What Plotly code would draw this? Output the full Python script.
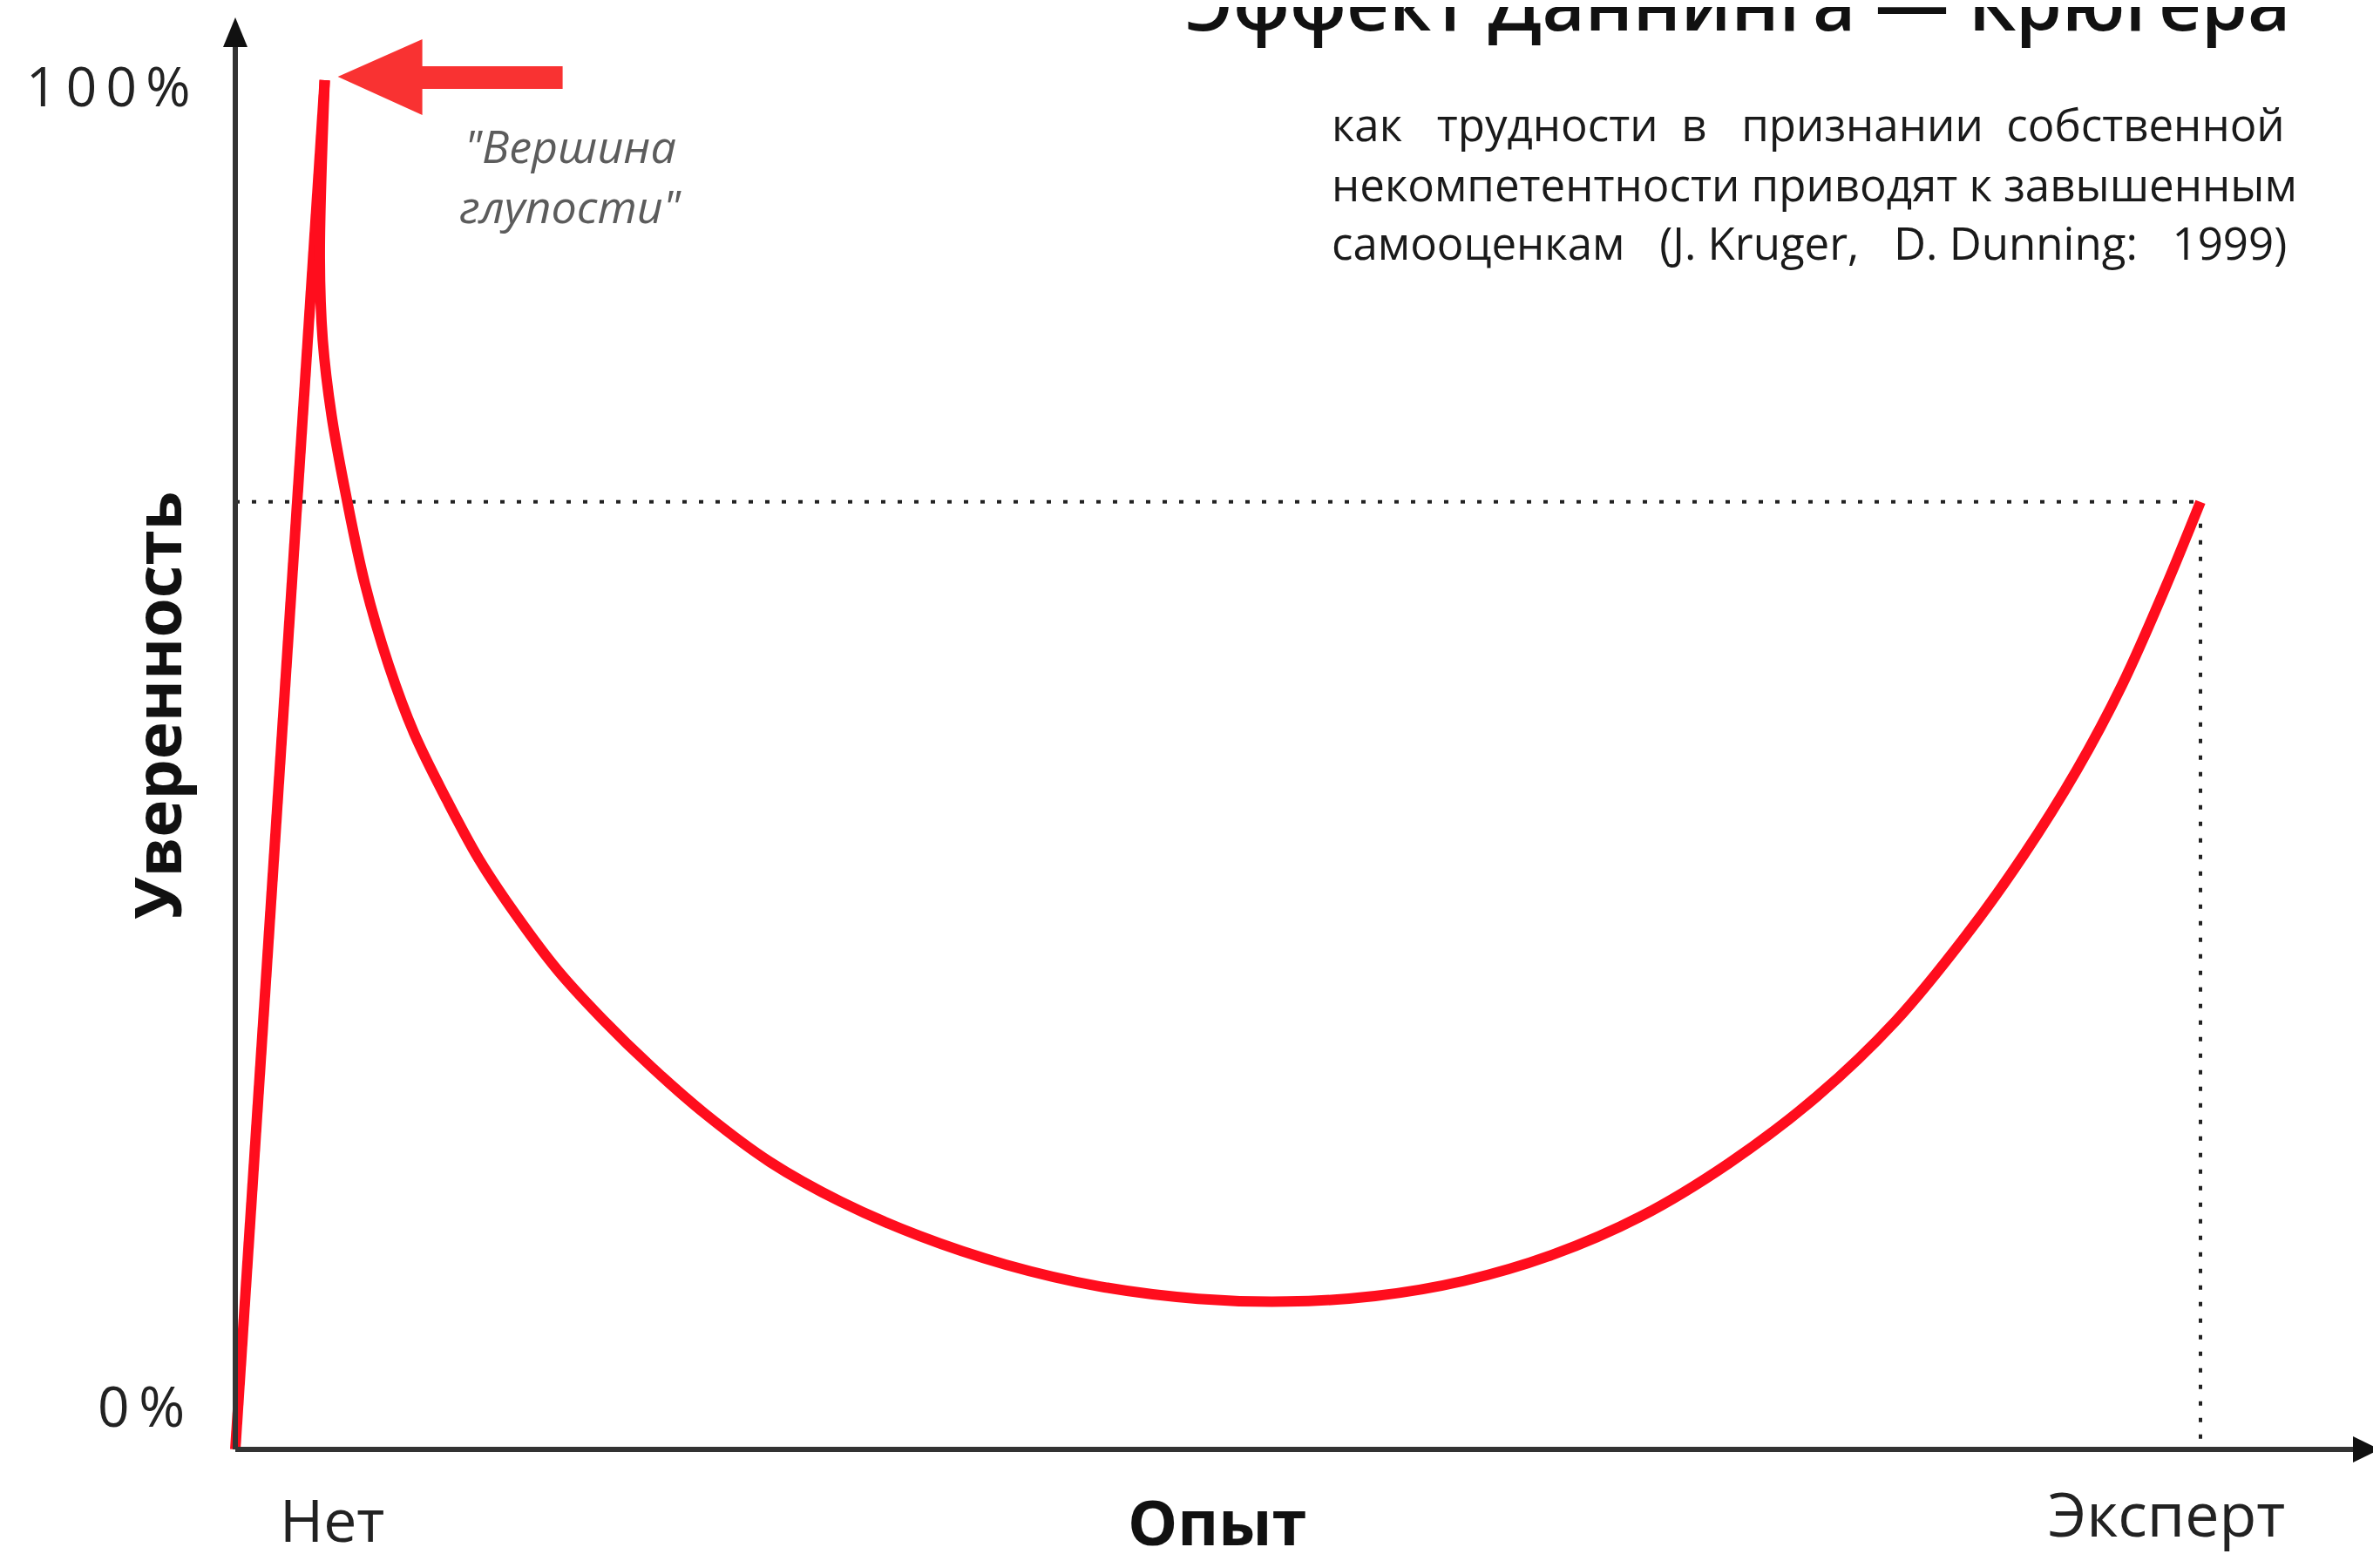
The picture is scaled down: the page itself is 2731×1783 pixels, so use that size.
import plotly.graph_objects as go

# ---------------- data ----------------
# Experience axis: 0 = "Нет", 100 = "Эксперт"; confidence in %
rise_x = [0.0, 4.55]
rise_y = [0.0, 100.0]
fall_x = [4.55, 4.3, 4.45, 4.9, 5.7, 6.6, 7.8, 9.1, 10.7, 12.4, 14.3, 16.4, 18.7, 21.2,
          24.0, 27.2, 30.8, 34.8, 39.2, 44.0, 49.0, 53.5, 58.0, 62.5, 67.0, 71.5, 76.0,
          80.5, 84.5, 88.0, 91.0, 93.7, 96.0, 98.2, 100.0]
fall_y = [100.0, 87.0, 81.0, 75.5, 69.2, 63.2, 57.3, 52.3, 47.6, 43.1, 39.0, 35.0, 31.4, 27.9,
          24.4, 21.0, 18.1, 15.6, 13.5, 11.9, 11.0, 10.8, 11.2, 12.3, 14.2, 17.0, 20.9,
          25.8, 31.3, 37.4, 43.4, 49.6, 55.8, 62.9, 69.2]
expert_x = 100.0
expert_level = 69.2
peak_x, peak_y = 4.55, 100.0
y_tick_vals = [0, 100]
y_tick_text = ["0\u2009%", "1\u20090\u20090\u2009%"]
x_tick_vals = [0, 100]
x_tick_text = ["Нет", "Эксперт"]
title_text = "Эффект Даннинга — Крюгера"
subtitle_lines = ["как\u00a0\u00a0 трудности\u00a0 в\u00a0\u00a0 признании\u00a0 собственной",
                  "некомпетентности приводят к завышенным",
                  "самооценкам\u00a0\u00a0 (J. Kruger,\u00a0\u00a0 D. Dunning:\u00a0\u00a0 1999)"]
peak_label = ["\"Вершина", "глупости\""]
x_title = "Опыт"
y_title = "Уверенность"

# ---------------- geometry (page pixels) ----------------
W, H = 2731, 1783
OFF = 8                       # default body margin of the html page
FW, FH = W - OFF, H - OFF     # figure size so it exactly fills the window
X0_PX, X100_PX = 270, 2525
Y0_PX, Y100_PX = 1663, 92
sx = (X100_PX - X0_PX) / 100.0
sy = (Y0_PX - Y100_PX) / 100.0


def dx(px):
    return (px - X0_PX) / sx


def dy(py):
    return (Y0_PX - py) / sy


def tox(x):
    return X0_PX + x * sx


def toy(y):
    return Y0_PX - y * sy


def pxp(px):
    return (px - OFF) / FW


def pyp(py):
    return 1 - (py - OFF) / FH


def path(points):
    return "M " + " L ".join(f"{dx(a):.4f},{dy(b):.4f}" for a, b in points) + " Z"


RED = "#ff0d1d"
ARROW_RED = "#f93232"
AXIS = "#333333"
FONT = "Open Sans, Noto Sans, sans-serif"

fig = go.Figure()

# dotted guide lines
fig.add_trace(go.Scatter(x=[0, expert_x, expert_x], y=[expert_level, expert_level, 0],
                         mode="lines", line=dict(color="#222222", width=4, dash="5px,14px"),
                         hoverinfo="skip"))
# curve
fig.add_trace(go.Scatter(x=rise_x, y=rise_y, mode="lines",
                         line=dict(color=RED, width=12, shape="linear"), hoverinfo="skip"))
fig.add_trace(go.Scatter(x=fall_x, y=fall_y, mode="lines",
                         line=dict(color=RED, width=12, shape="spline", smoothing=1.0),
                         hoverinfo="skip"))

shapes = []
# axes
shapes.append(dict(type="line", xref="x", yref="y", x0=0, y0=0, x1=0, y1=dy(44),
                   line=dict(color=AXIS, width=6)))
shapes.append(dict(type="line", xref="x", yref="y", x0=0, y0=0, x1=dx(2705), y1=0,
                   line=dict(color=AXIS, width=6)))
# axis arrowheads
shapes.append(dict(type="path", xref="x", yref="y",
                   path=path([(X0_PX, 20), (X0_PX + 14, 54), (X0_PX - 14, 54)]),
                   fillcolor="#111111", line=dict(width=0)))
shapes.append(dict(type="path", xref="x", yref="y",
                   path=path([(2731, Y0_PX), (2700, Y0_PX - 15), (2700, Y0_PX + 15)]),
                   fillcolor="#111111", line=dict(width=0)))
# red arrow pointing to the peak
tx, ty = tox(peak_x) + 15, toy(peak_y) - 4
shapes.append(dict(type="path", xref="x", yref="y",
                   path=path([(tx, ty), (tx + 97, ty - 43), (tx + 97, ty - 12), (tx + 258, ty - 12),
                              (tx + 258, ty + 14), (tx + 97, ty + 14), (tx + 97, ty + 44)]),
                   fillcolor=ARROW_RED, line=dict(width=0)))

ann = []
# title (partly cut off at the top)
ann.append(dict(text=title_text, xref="paper", yref="paper", x=pxp(1994), y=pyp(2),
                xanchor="center", yanchor="middle", showarrow=False,
                font=dict(family=FONT, size=85, color="#111111", weight=600)))
for line, cy in zip(subtitle_lines, [142, 211, 278]):
    ann.append(dict(text=line, xref="paper", yref="paper", x=pxp(1526), y=pyp(cy),
                    xanchor="left", yanchor="middle", showarrow=False,
                    font=dict(family=FONT, size=51, color="#1a1a1a")))
# peak label
for line, (lx, cy) in zip(peak_label, [(531, 166), (525, 236)]):
    ann.append(dict(text=line, xref="paper", yref="paper", x=pxp(lx), y=pyp(cy),
                    xanchor="left", yanchor="middle", showarrow=False,
                    font=dict(family=FONT, size=52, color="#5c5c5c", style="italic")))
# y tick labels
ann.append(dict(text=y_tick_text[1], xref="x", yref="y", x=dx(220), y=y_tick_vals[1] - 0.4,
                xanchor="right", yanchor="middle", showarrow=False,
                font=dict(family=FONT, size=62, color="#222222")))
ann.append(dict(text=y_tick_text[0], xref="x", yref="y", x=dx(214), y=dy(1612),
                xanchor="right", yanchor="middle", showarrow=False,
                font=dict(family=FONT, size=64, color="#222222")))
# x tick labels
ann.append(dict(text=x_tick_text[0], xref="x", yref="y", x=dx(381), y=dy(1742),
                xanchor="center", yanchor="middle", showarrow=False,
                font=dict(family=FONT, size=68, color="#222222")))
ann.append(dict(text=x_tick_text[1], xref="x", yref="y", x=dx(2486), y=dy(1736),
                xanchor="center", yanchor="middle", showarrow=False,
                font=dict(family=FONT, size=70, color="#222222")))
# axis titles
ann.append(dict(text=x_title, xref="x", yref="y", x=dx(1396), y=dy(1745),
                xanchor="center", yanchor="middle", showarrow=False,
                font=dict(family=FONT, size=72, color="#111111", weight="bold")))
ann.append(dict(text=y_title, xref="x", yref="y", x=dx(179), y=dy(810),
                xanchor="center", yanchor="middle", showarrow=False, textangle=-90,
                font=dict(family=FONT, size=73, color="#111111", weight="bold")))

fig.update_layout(
    width=FW, height=FH,
    margin=dict(l=0, r=0, t=0, b=0),
    paper_bgcolor="white", plot_bgcolor="white",
    showlegend=False,
    xaxis=dict(range=[dx(OFF), dx(W)], visible=False, fixedrange=True),
    yaxis=dict(range=[dy(H), dy(OFF)], visible=False, fixedrange=True),
    shapes=shapes, annotations=ann,
)

fig.write_html("out.html")
